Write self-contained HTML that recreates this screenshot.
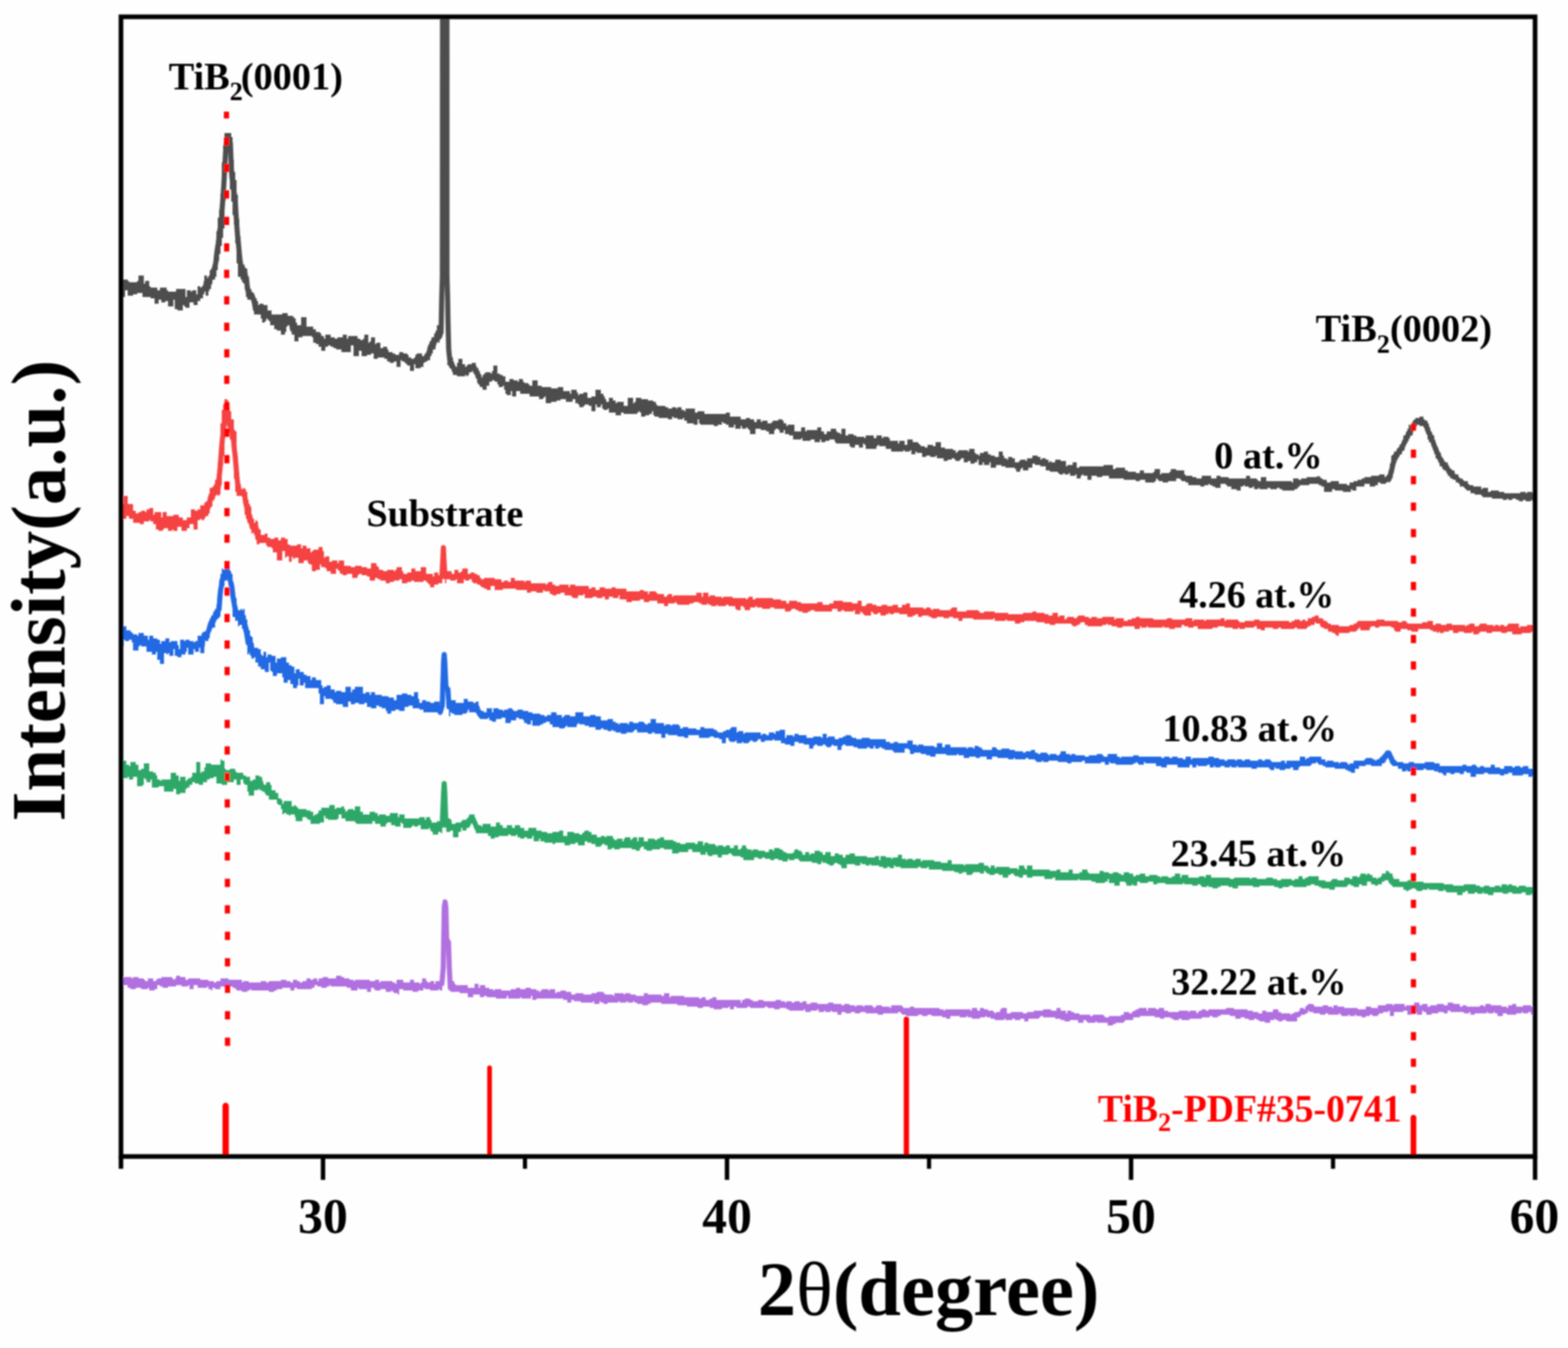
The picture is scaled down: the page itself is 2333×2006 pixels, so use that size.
<!DOCTYPE html>
<html><head><meta charset="utf-8"><title>XRD patterns</title>
<style>
html,body{margin:0;padding:0;background:#fefefe;}
body{width:2333px;height:2006px;overflow:hidden;}
svg{display:block;}
text{font-family:"Liberation Serif","DejaVu Serif",serif;font-weight:bold;fill:#000;}
</style></head><body>
<svg width="2333" height="2006" viewBox="0 0 2333 2006">
<rect x="0" y="0" width="2333" height="2006" fill="#fefefe"/>
<defs><clipPath id="plot"><rect x="180" y="25" width="2104" height="1696"/></clipPath><filter id="soft" x="0" y="0" width="2333" height="2006" filterUnits="userSpaceOnUse"><feGaussianBlur stdDeviation="0.8"/></filter></defs>
<g filter="url(#soft)">
<g fill="#ff0000"><rect x="331.1" y="1641.0" width="9.3" height="83.0" rx="4.7"/><rect x="724.9" y="1585.5" width="7.0" height="138.5" rx="3.5"/><rect x="1344.7" y="1512.8" width="7.8" height="211.2" rx="3.9"/><rect x="2098.8" y="1659.0" width="8.5" height="65.0" rx="4.2"/></g>
<g clip-path="url(#plot)">
<path d="M176 1452h6v4h2v-2h12v2h2v-2h8v2h8v2h2v2h4v-4h8v4h4v-2h2v-2h6v-2h16v2h2v2h2v-2h2v-4h6v2h8v4h4v-2h18v2h12v2h8v2h4v-2h6v-4h12v2h20v4h2v-2h8v2h18v-2h8v2h4v-2h18v-2h8v2h6v2h4v-4h6v2h4v2h4v-2h6v-4h6v2h4v-2h6v4h2v-4h6v-2h8v2h12v-4h8v2h4v2h8v2h6v2h2v-2h22v2h8v-2h6v4h2v-2h18v2h4v2h2v-6h10v4h10v-4h6v4h8v2h2v-2h2v-6h6v4h2v2h4v-2h6v4h2v-4h10V1474h-4v-2h-2v2h-12v-2h-8v-2h-2v4h-8v2h-8v-2h-14v-2h-6v8h-2v-2h-6v-2h-2v-2h-2v2h-8v-4h-8v2h-8v-2h-2v-2h-4v6h-6v-4h-12v-2h-2v4h-10v-4h-6v-2h-24v-2h-2v2h-4v2h-8v-2h-6v-2h-4v4h-4v2h-22v-2h-4v4h-6v-4h-12v2h-8v2h-4v2h-8v-2h-26v-2h-2v2h-4v2h-8v-2h-8v-2h-2v-2h-4v-2h-4v2h-8v-2h-6v4h-8v-2h-4v4h-2v-2h-4v-4h-2v2h-14v-4h-6v6h-6v-6h-2v2h-10v-2h-8v2h-12v2h-8v-2h-4v-2h-4v6h-4v2h-8v-4h-2v2h-10v-2h-8v2h-8v-2h-4v-4h-14ZM670 1460h6v4h2v2h18v4h10v-6h6v6h2v-4h8v4h6v2h6v2h2v-2h10v2h14v-2h8v-2h6v2h8v-2h8v2h8v2h4v2h2v-2h2v-2h10v2h2v-2h8v6h2v-2h6v-2h8v2h8v4h6v-2h12v2h12v-2h8v-2h10v2h2v2h12v2h2v-4h14v2h2v-2h8v2h8v2h12v-4h6v2h20v2h4v-4h8v6h2v-2h20v2h22v2h4v-2h6v4h6v-2h4v-2h6v4h36v4h2v-4h4v-2h8v2h4v2h8v-2h8v2h18v-2h8v2h6v2h2v-2h8v2h4v-2h8v2h4v-2h6v4h6v-2h10v2h16v-2h8v2h12v2h4v-2h8v2h8v2h2v-2h10v2h2v-2h12v2h2v2h2v-2h2v-2h8v2h12v2h2v-4h16v2h2v2h10v-2h6v2h38v2h6v2h2v-2h38v2h2v-4h8v4h4v-4h6v2h6v2h8v2h2v2h2v-2h6v-4h2v-2h8v8h6v-2h18v2h6v-2h10v-2h14v-2h12v2h8v-4h6v4h8v4h2v-4h6v2h4v2h8v2h16v2h4v-2h16v2h2v2h6v-2h18v-2h4v-4h8v2h4v-2h2v-2h4v-2h4v-2h12v4h2v-4h12v2h4v-2h8v4h6v2h16v-2h14v2h2v-2h10v4h2v-2h2v-2h4v-2h6v2h4v-2h26v-2h12v2h20v2h8v2h8v2h6v-4h6v2h10v-4h8v4h4v2h14v2h2v-2h4v-2h6v-2h2v-4h6v2h2v-4h2v-2h2v-2h8v2h2v2h12v-2h8v2h6v2h2v-4h6v2h10v2h20v2h12v-4h8v2h10v-4h12v-2h10v2h2v-2h16v4h2v-2h12v-4h8v4h4v-2h8v4h4v-2h10v-2h10v2h6v-4h8v2h10v4h4v-2h6v2h20v-2h6v2h2v-4h8v2h16v2h8v2h2v-4h6v-2h6v4h10v-2h12v2h10V1508h-2v2h-8v-4h-4v2h-8v-2h-2v2h-8v2h-14v-2h-6v4h-8v-4h-4v-2h-2v2h-8v-2h-2v2h-18v2h-6v-4h-2v2h-8v-2h-20v-2h-4v4h-6v-2h-8v2h-10v2h-8v-4h-4v-2h-2v6h-8v-4h-8v4h-6v-6h-6v2h-14v6h-6v-8h-2v2h-8v2h-6v2h-2v2h-8v-2h-4v2h-6v2h-6v-2h-8v-2h-2v2h-8v-2h-2v2h-10v-2h-2v-2h-2v2h-16v-2h-4v2h-8v-2h-10v-2h-6v-2h-2v4h-4v2h-6v2h-2v2h-4v6h-16v-2h-6v2h-6v-2h-4v-2h-2v2h-6v4h-8v-2h-8v-2h-4v-2h-4v2h-8v-2h-6v-2h-6v2h-8v-4h-8v-2h-14v2h-4v2h-8v-2h-4v2h-12v2h-18v2h-12v-2h-4v2h-8v-2h-4v-2h-10v2h-6v-2h-8v-2h-22v2h-10v4h-12v2h-2v2h-12v2h-4v2h-8v-4h-16v-2h-2v2h-12v-2h-2v-2h-4v4h-8v-4h-12v2h-8v-2h-6v-2h-8v-2h-18v-2h-4v2h-2v2h-16v4h-6v-4h-6v2h-8v-2h-4v2h-10v-2h-2v2h-14v-2h-6v-2h-6v-2h-2v2h-8v2h-12v-2h-6v-2h-2v2h-10v-2h-14v4h-6v-2h-6v-2h-16v-2h-6v2h-8v-2h-6v2h-18v-2h-6v-2h-2v-2h-4v2h-22v2h-8v-2h-18v-2h-8v2h-8v-2h-6v2h-8v-2h-6v4h-6v-4h-8v-2h-2v2h-8v-2h-2v2h-8v-4h-2v2h-10v2h-8v-4h-2v2h-22v-2h-4v-2h-10v2h-8v-2h-10v-2h-4v2h-22v-2h-4v2h-16v-2h-4v4h-6v-4h-2v2h-10v2h-12v-2h-6v-2h-10v2h-8v-2h-16v-2h-14v-2h-24v-2h-16v2h-4v2h-8v-2h-8v-2h-4v-2h-2v2h-8v-2h-2v2h-10v-2h-2v2h-16v2h-6v-2h-4v-2h-2v4h-8v-4h-2v2h-18v-2h-10v-2h-4v4h-6v-4h-6v-2h-40v2h-6v-6h-2v4h-14v-2h-2v2h-18v-4h-2v4h-16v-2h-14v-2h-4v2h-6v-4h-10v4h-8v-6h-12v-2h-14Z" fill="#b070e0"/>
<path d="M657.5 1464 L659.5 1440 L661 1350 L662.2 1342 L663.4 1350 L664.5 1398 L667.3 1402 L668.5 1440 L670 1470" fill="none" stroke="#b070e0" stroke-width="7.6" stroke-linejoin="round" stroke-linecap="round"/>
<path d="M176 1134h2v4h2v-6h8v6h4v2h2v-6h8v4h4v8h4v-2h4v-8h8v12h6v2h4v4h2v6h4v2h2v-2h14v-10h8v4h4v8h2v-6h8v6h2v-2h2v-2h4v-2h2v-6h6v-16h6v16h2v-2h4v-6h2v-6h8v2h14v-8h2v2h4v12h2v2h6v-2h8v4h2v2h10v4h4v2h6v6h4v-2h4v-6h6v2h4v10h2v2h4v-4h6v4h2v8h6v4h4v8h4v2h2v6h2v-4h12v8h4v-2h2v2h2v2h2v2h12v2h6v2h4v6h2v-2h4v-2h2v-4h4v-4h12v-4h8v6h2v-2h8v-2h4v4h2v4h2v-2h2v-2h8v2h2v-6h8v8h4v4h10v-4h8v2h4v4h2v-2h10v2h6v-4h12v6h2v-4h8v6h22v-2h8v4h2v-4h6v4h2v4h8v-2h8V1240h-2v-2h-4v4h-8v-4h-2v-2h-2v-4h-2v2h-12v-6h-4v2h-6v-2h-2v2h-2v2h-12v-6h-2v-2h-2v6h-8v-2h-6v-4h-6v2h-2v4h-8v-4h-8v-4h-4v4h-24v-2h-2v-2h-14v-4h-6v-6h-4v6h-2v2h-14v-2h-4v-4h-2v10h-6v2h-14v-6h-4v-2h-2v-2h-6v6h-10v-10h-8v2h-2v-2h-4v-2h-4v2h-2v-8h-2v-6h-4v-2h-2v-6h-12v-6h-4v-4h-2v-2h-4v-2h-4v-2h-2v2h-6v8h-8v-6h-2v-10h-4v-2h-2v-6h-4v8h-6v-8h-4v4h-10v4h-8v-2h-8v-10h-4v2h-6v2h-4v4h-6v4h-6v-2h-6v-2h-4v4h-4v4h-4v2h-2v6h-8v2h-6v-8h-4v4h-14v-8h-8v2h-10v-12h-2v4h-6v-4h-2v-2h-2v10h-2v2h-8v-14h-6v4h-6v-4h-2v2h-8v-4h-2v-4h-4ZM664 1218h6v2h2v6h6v-2h8v-2h2v-2h6v-2h2v-2h2v-4h8v6h2v4h2v6h6v2h2v-4h12v4h8v-6h6v4h4v4h6v-4h8v4h4v-4h8v4h6v4h6v-4h12v4h8v2h8v2h8v-2h10v-2h6v8h6v-6h10v2h8v2h4v-2h2v-2h2v-2h6v2h4v4h8v4h6v-2h6v2h2v-2h10v4h2v2h4v-2h8v4h2v-4h2v-2h8v4h2v-2h2v-2h6v6h2v-6h8v6h6v-4h10v2h4v-2h4v-2h6v4h14v2h4v2h6v2h8v-2h14v2h4v-4h8v6h2v-4h6v2h10v2h2v2h2v-2h8v2h4v-2h6v4h6v-4h6v6h4v-2h2v-4h6v4h2v2h6v2h2v-2h8v2h10v2h6v-4h6v2h2v-4h8v2h4v2h2v2h4v2h10v-2h2v-4h6v2h4v2h2v4h4v-4h6v4h2v-2h6v-4h8v2h4v4h4v-4h8v6h6v-4h6v2h6v4h4v-4h6v-2h8v4h18v2h12v-2h6v6h2v-6h8v2h8v2h2v-2h8v-4h6v6h6v2h2v-2h8v2h4v-2h8v4h2v-2h18v2h10v2h10v-4h6v6h18v2h2v-2h20v-2h8v4h6v2h2v2h2v-4h6v4h2v-2h20v2h12v2h2v-6h8v4h2v2h2v-6h8v6h26v2h10v-2h6v4h12v-4h6v6h10v-2h4v-4h8v4h2v2h16v-4h6v2h8v2h6v-2h8v2h4v2h4v-4h8v2h6v4h4v-2h6v-2h8v4h6v-2h12v2h4v2h2v-2h10v2h6v-2h4v-4h8v6h2v-4h10v4h16v-2h8v2h2v-4h8v4h28v2h6v-2h24v2h2v-2h8v2h14v-2h10v2h6v2h6v-2h16v2h4v-2h6v-4h6v4h4v-2h4v-2h16v6h10v2h8v-2h2v-2h8v2h10v-4h8v2h4v-4h8v2h2v-2h2v-4h8v2h2v-2h4v2h4v4h6v2h2v-2h4v-2h2v-4h6v-4h4v4h6v8h10v4h12v-2h4v-2h6v2h2v2h12v2h30v2h14v2h16v-2h18v2h6v2h6v-2h8v2h8v-2h8v2h2v-4h8v2h2v-2h6v2h6v2h4v-2h10v2h14v2h2v-2h2V1330h-2v4h-6v-4h-2v2h-8v-4h-6v2h-14v-2h-6v2h-8v-2h-14v4h-8v-2h-6v-2h-2v2h-8v-2h-4v2h-10v-4h-4v2h-4v4h-8v-4h-16v-2h-2v-2h-2v2h-8v-2h-14v-2h-2v2h-8v2h-8v-2h-2v-2h-6v2h-4v2h-4v-2h-4v-4h-16v-4h-4v-2h-2v-4h-6v2h-4v4h-6v2h-4v-2h-6v-4h-6v6h-8v-2h-4v4h-8v-2h-4v-2h-4v2h-2v2h-18v4h-8v-2h-12v-2h-4v-2h-6v-2h-6v2h-6v2h-20v-2h-6v2h-10v2h-6v-2h-6v-2h-22v2h-10v-2h-22v4h-8v-2h-6v-2h-12v2h-4v2h-8v-2h-6v-2h-2v2h-8v-2h-2v-2h-4v2h-8v-2h-12v-2h-2v2h-26v-2h-12v2h-6v-4h-8v2h-12v-2h-4v6h-6v-2h-2v2h-8v-4h-2v-2h-8v6h-8v-4h-8v-6h-2v4h-4v2h-14v-2h-6v-2h-18v-2h-2v2h-34v-4h-4v2h-12v-4h-18v2h-8v-4h-6v4h-6v-2h-6v-2h-2v-2h-4v2h-4v4h-8v-4h-6v-2h-6v2h-8v-2h-4v-2h-2v-2h-2v4h-6v-2h-10v2h-2v2h-8v-4h-6v2h-6v-2h-6v-2h-18v-2h-20v-4h-2v2h-10v-2h-4v2h-26v-2h-8v-2h-2v4h-6v-2h-4v2h-6v-2h-6v-2h-12v-2h-2v2h-6v-2h-6v-2h-2v4h-8v-2h-12v6h-8v-4h-2v-2h-4v-2h-4v2h-2v2h-6v-2h-4v-2h-6v-2h-2v4h-6v-2h-8v-2h-18v-2h-2v-2h-6v2h-8v-2h-2v4h-8v-2h-6v-2h-6v2h-6v-2h-8v-2h-4v2h-6v-2h-6v4h-16v-4h-4v-2h-12v-2h-2v-2h-4v2h-10v4h-6v-4h-8v2h-6v-2h-2v-4h-2v4h-8v-4h-12v-4h-6v4h-14v2h-10v-6h-12v-2h-6v2h-12v2h-8v-2h-4v-4h-4v2h-2v4h-6v-2h-6v-2h-18v2h-8v-2h-4v2h-6v-6h-4v-2h-4v2h-2v2h-8v-4h-6v-2h-6v-2h-4v6h-10v-4h-4v2h-8v2h-8v-4h-14v2h-4v-2h-12v-2h-6v-4h-2v4h-8v-8h-2v4h-8v-2h-4v2h-6v-2h-4v-4h-2v2h-8v-2h-4v2h-14v2h-6v2h-6v-4h-4v-4h-18v-8h-2v-2h-2v-4h-2v-4h-2v8h-2v2h-4v4h-6v-4h-2v6h-4v8h-8v-10h-4v2h-6Z" fill="#2fa868"/>
<path d="M387.2 1162.6 L388.4 1166.4 L389.6 1171.2 L390.8 1170.6 L392.0 1173.4 L393.2 1172.7 L394.4 1173.0 L395.6 1175.0 L396.8 1177.0 L398.0 1179.4 L399.2 1173.7 M437.6 1203.3 L438.8 1207.3 L440.0 1204.7 L441.2 1207.1 L442.4 1213.5 L443.6 1209.6 M694.4 1228.2 L695.6 1227.0 L696.8 1223.6 L698.0 1223.9 L699.2 1220.1 L700.4 1217.7 L701.6 1216.2 L702.8 1216.2 L704.0 1219.0 L705.2 1222.2 L706.4 1224.5 L707.6 1227.1 L708.8 1230.3 L710.0 1233.2 L711.2 1232.3 M2042.0 1309.4 L2043.2 1311.2 L2044.4 1310.1 L2045.6 1311.5 L2046.8 1313.1 M2062.4 1305.3 L2063.6 1302.9 L2064.8 1301.1 L2066.0 1304.6 L2067.2 1305.8 L2068.4 1308.2 L2069.6 1307.0 L2070.8 1311.3 L2072.0 1312.8 L2073.2 1314.9" fill="none" stroke="#2fa868" stroke-width="7.6" stroke-linejoin="round" stroke-linecap="round"/>
<path d="M658 1228 L660 1180 L660.9 1166 L661.8 1180 L663.5 1228" fill="none" stroke="#2fa868" stroke-width="7.6" stroke-linejoin="round" stroke-linecap="round"/>
<path d="M176 940h4v-8h8v6h6v2h2v2h2v2h6v2h2v-4h8v4h6v6h2v-6h6v4h6v2h4v6h2v-4h6v-4h6v6h2v-2h10v6h2v6h2v-14h6v2h2v-2h6v2h6v2h2v-2h4v-8h6v-4h2v-2h6v-8h2v-6h2v-6h2v-4h2v2h2v-6h2v-6h2v-6h2v-8h2v-28h2v-10h2v-8h2v2h2v-4h6v2h2v4h2v4h2v14h2v14h2v8h2v14h2v4h4v-2h2v2h2v-2h2v12h2v4h2v12h2v4h2v8h2v2h2v22h2v-6h6v2h4v8h2v2h2v-6h4v8h2v-4h6v2h6v10h2v-6h6v-2h8v8h4v4h4v2h4v10h2v-6h6v4h6v4h4v2h6v6h2v-4h6v4h8v8h2v4h2v-2h4v-2h6v6h6v4h2v-2h8v2h6v-8h8v8h2v-4h4v-4h12v10h4v-2h6v4h2v-4h6v4h10v2h10v2h8v4h4v-8h8v-2h8v2h6v2h4v-6h6v10h2v6h4v-4h6v2h6v2h6v-2h8V1060h-24v-4h-6v-2h-10v-4h-6v2h-6v6h-8v-2h-6v2h-6v4h-6v-4h-2v-4h-6v-2h-4v-2h-4v4h-8v-2h-6v-6h-4v2h-8v-2h-6v2h-6v-4h-4v8h-8v-4h-10v-2h-4v-4h-2v-2h-10v-4h-2v12h-6v-16h-2v-8h-20v-8h-2v4h-6v-10h-2v10h-2v4h-6v-6h-4v-6h-4v4h-6v-8h-2v-6h-8v4h-6v-6h-2v-2h-2v-12h-2v14h-6v-4h-6v-4h-4v-6h-4v-8h-2v2h-4v-6h-2v-12h-2v12h-2v-14h-2v-12h-2v-8h-2v-4h-2v-6h-4v2h-2v-12h-2v4h-2v-6h-4v-28h-2v-8h-2v-10h-2v-10h-2v2h-4v8h-4v28h-2v18h-2v2h-2v2h-4v12h-4v2h-2v2h-2v12h-2v4h-4v-2h-2v20h-6v-8h-2v6h-6v-4h-2v8h-8v-10h-2v6h-2v4h-6v4h-6v-2h-4v-10h-2v10h-6v-4h-2v2h-2v-2h-4v16h-6v-6h-4v-12h-2v4h-6v-4h-8v-8h-8v-2h-2v2h-2v6h-8v-12h-2v-4h-4v2h-6v-2h-2v10h-6v-8h-2ZM668 1048h2v-6h8v4h12v-6h6v4h8v2h4v-2h4v10h2v2h2v2h4v2h4v-6h8v6h2v-6h8v2h6v2h2v-2h6v-2h6v2h2v2h6v-2h8v2h8v2h6v2h12v2h6v2h4v-2h6v-4h8v4h8v4h2v-2h2v-2h8v2h8v-6h12v6h10v-2h8v2h8v6h10v-2h8v4h4v2h4v2h2v-2h12v2h2v-4h6v2h8v-2h8v2h2v2h4v-2h4v-6h8v6h12v4h2v-2h8v2h2v-2h10v2h2v4h4v-2h8v2h12v2h6v-4h6v2h14v2h4v2h2v2h8v-2h4v-2h6v-2h2v-2h8v8h2v-2h8v4h2v-2h24v4h2v-2h6v2h4v-4h8v2h2v-4h6v-2h8v12h2v-4h10v2h2v-4h6v2h12v4h10v-2h12v2h2v-6h6v6h2v-2h10v4h6v-2h6v-2h4v-2h8v2h2v2h6v2h8v-2h12v2h24v4h6v2h6v-2h6v2h14v-4h8v6h6v2h2v-2h8v2h16v2h4v-6h8v6h4v-4h8v4h24v2h2v-2h8v2h2v-4h6v2h4v2h2v2h14v-4h6v2h2v2h6v-2h12v2h8v2h12v2h4v-2h8v-2h6v4h4v2h4v-2h10v2h2v2h2v-2h10v2h4v-2h2v-4h8v4h6v2h2v-2h6v2h14v2h6v-2h12v-2h8v2h2v2h6v-4h14v4h4v2h2v-2h18v-2h8v2h34v2h4v-2h8v2h4v-2h8v2h8v2h4v-4h8v4h2v-2h24v-2h8v2h8v2h8v2h4v-2h12v2h2v-2h8v2h4v-2h8v2h12v-2h6v2h4v-2h8v2h2v2h14v-2h6v4h2v-4h20v-6h8v4h2v-2h4v-2h18v4h6v4h2v-2h10v2h8v2h2v-2h10v2h2v2h2v-2h6v-4h16v-2h2v-2h10v2h4v2h2v-2h4v-2h2v-2h2v-2h4v-4h2v-2h8v6h2v2h2v4h2v2h2v2h10v2h8v-2h8v2h16v-2h14v2h8v4h34v-2h6v2h8v-2h6v2h2v2h4v-2h6v2h10v-4h6v4h8v2h6v-4h12v2h4v-2h8v2h4v-2h8v4h10v-4h4V1154h-8v2h-6v-4h-8v2h-16v-4h-6v2h-6v2h-6v-2h-18v-2h-6v2h-12v4h-8v-6h-6v-2h-4v4h-6v-2h-8v2h-6v-2h-6v4h-4v-2h-2v-2h-6v-2h-6v-2h-12v-2h-4v2h-14v-2h-2v4h-8v-2h-2v2h-6v-4h-6v-4h-8v-2h-2v-2h-2v-6h-2v-2h-2v2h-2v4h-2v2h-4v4h-16v-2h-8v2h-10v4h-6v6h-6v-2h-4v-2h-4v-2h-16v-2h-14v-2h-4v-2h-6v-2h-2v-2h-2v2h-6v2h-2v2h-16v2h-2v4h-8v-4h-4v2h-8v2h-8v-2h-6v-2h-2v4h-6v-2h-2v-2h-18v2h-8v-2h-20v-2h-2v2h-8v-2h-2v2h-8v-2h-6v2h-8v-2h-2v2h-6v-4h-4v2h-14v-2h-2v4h-6v-4h-4v4h-18v-4h-16v4h-8v-2h-8v-4h-16v-2h-2v4h-8v-2h-2v-2h-2v2h-4v2h-26v-2h-8v-2h-2v4h-6v-4h-6v2h-24v-4h-4v2h-16v2h-6v-2h-14v-2h-14v2h-8v-2h-2v2h-8v-2h-2v-2h-10v-2h-4v2h-16v-2h-2v2h-8v-2h-16v-2h-8v4h-8v-4h-10v2h-6v-2h-10v2h-8v-4h-8v-2h-2v2h-16v-2h-16v4h-8v-2h-6v-2h-8v-2h-10v2h-6v-6h-2v-2h-6v6h-16v-2h-2v-2h-12v-2h-4v-2h-4v2h-6v-4h-2v4h-6v-2h-4v2h-14v-2h-6v-2h-12v-2h-4v2h-2v6h-6v-6h-6v-2h-2v2h-2v2h-6v-2h-2v-2h-4v2h-8v-2h-4v2h-2v4h-6v-6h-8v-2h-8v-2h-6v6h-6v-2h-8v-2h-6v-4h-10v-2h-2v2h-12v2h-6v-4h-4v2h-2v2h-6v-2h-4v2h-2v2h-8v-2h-2v2h-8v-4h-2v2h-8v-2h-2v-4h-4v8h-6v-6h-4v-2h-8v-2h-6v2h-16v-4h-16v4h-6v-2h-10v-2h-14v-2h-4v6h-6v-6h-10v-2h-4v2h-6v-2h-16v-4h-4v2h-2v2h-10v2h-8v-2h-8v-2h-4v-2h-2v2h-6v-2h-6v-2h-4v2h-8v-4h-10v-2h-6v-2h-8v-2h-2v2h-2v4h-14v-2h-2v2h-2v2h-8v-2h-10v-4h-4v-4h-6v2h-4v2h-4v2h-12v-8h-2v6h-6v-2h-4v-4h-2v-2h-6v-2h-4v4h-8v4h-8v-8h-6v2h-8v4h-6v-2h-4v-4h-2v2h-12v-2h-2v-6h-2v-2h-12v-4h-2v4h-2v2h-6v2h-12v-2h-4v-2h-2v6h-2Z" fill="#2069e3"/>
<path d="M300.8 961.3 L302.0 948.8 L303.2 948.2 L304.4 948.1 L305.6 948.6 L306.8 947.8 L308.0 946.7 L309.2 940.5 L310.4 939.1 L311.6 934.5 L312.8 930.0 L314.0 926.4 L315.2 926.2 L316.4 923.2 L317.6 924.5 L318.8 919.4 L320.0 916.5 L321.2 911.9 L322.4 911.1 L323.6 911.7 L324.8 908.8 L326.0 906.3 L327.2 888.2 L328.4 876.7 L329.6 870.9 L330.8 862.0 L332.0 860.3 L333.2 860.3 L334.4 855.1 L335.6 850.8 L336.8 852.1 L338.0 847.5 L339.2 852.7 L340.4 857.4 L341.6 858.5 L342.8 865.2 L344.0 868.4 L345.2 874.4 L346.4 886.5 L347.6 893.4 L348.8 900.4 L350.0 906.7 L351.2 915.1 L352.4 914.3 L353.6 915.4 L354.8 920.2 L356.0 919.3 M359.6 920.7 L360.8 918.0 L362.0 917.4 L363.2 928.3 L364.4 929.4 L365.6 933.8 L366.8 941.3 L368.0 949.3 L369.2 956.4 L370.4 954.7 L371.6 957.6 L372.8 968.1 L374.0 959.0 L375.2 972.5 M704.0 1049.7 L705.2 1050.8 L706.4 1054.7 L707.6 1055.7 L708.8 1054.7 L710.0 1052.7 L711.2 1058.9 L712.4 1059.7 L713.6 1062.8 L714.8 1063.0 M2055.2 1131.5 L2056.4 1129.8 L2057.6 1130.9 L2058.8 1128.1 L2060.0 1127.9 L2061.2 1124.7 L2062.4 1124.3 L2063.6 1121.5 L2064.8 1120.2 L2066.0 1120.4 L2067.2 1122.3 L2068.4 1124.6 L2069.6 1128.3 L2070.8 1130.5 L2072.0 1133.0 L2073.2 1135.4 L2074.4 1135.0" fill="none" stroke="#2069e3" stroke-width="7.6" stroke-linejoin="round" stroke-linecap="round"/>
<path d="M655 1060 L658 1050 L660 985 L660.9 974 L661.8 985 L663.5 1022 L666.5 1026 L668 1052" fill="none" stroke="#2069e3" stroke-width="7.6" stroke-linejoin="round" stroke-linecap="round"/>
<path d="M176 752h4v-2h4v-12h6v12h8v10h4v4h4v-2h4v-2h6v2h2v-4h4v-2h6v10h2v-4h10v8h2v-8h6v6h10v-2h8v4h6v4h6v-4h6v-12h6v2h4v-2h4v-6h6v-4h2v-2h2v4h2v-8h2v-16h4v-2h2v-2h2v-8h2v-2h2v-24h2v-22h2v-36h2v-20h2v-8h2v-8h4v2h2v14h2v2h2v12h4v16h2v2h2v38h2v22h2v22h2v4h4v-2h2v2h2v4h2v12h2v6h2v4h2v18h4v6h2v-4h2v2h2v12h4v8h6v-2h4v6h4v2h6v-2h6v4h4v-4h6v2h4v8h2v2h2v2h2v-2h8v-2h6v6h2v-4h6v4h6v6h2v-2h2v-2h8v-4h6v6h2v10h2v-2h6v8h4v-2h8v4h2v-4h8v8h10v2h6v-2h10v2h8v2h6v-8h8v4h2v2h2v4h6v2h6v-2h10v2h2v-2h2v-4h8v6h2v4h6v-2h6v-6h6v4h8v-6h8v10h10v4h2v-6h6v4h6V868h-6v2h-6v4h-6v-4h-2v-2h-2v-2h-2v-2h-4v2h-14v-2h-4v2h-6v2h-8v-6h-4v2h-8v2h-6v2h-6v-4h-8v-2h-4v-2h-4v4h-8v-6h-4v-2h-8v-2h-4v2h-2v4h-8v-6h-8v2h-6v-2h-4v-4h-2v-2h-2v-2h-2v8h-8v-4h-6v-4h-2v-2h-6v-4h-2v8h-6v2h-6v-10h-4v-2h-2v-4h-6v4h-8v-8h-6v2h-2v-4h-2v8h-4v-8h-4v2h-2v-10h-4v14h-8v-12h-6v-6h-2v-2h-6v-2h-2v-4h-10v2h-4v-16h-2v2h-2v-6h-2v4h-2v-8h-2v-6h-2v-2h-2v-6h-2v-6h-2v-20h-2v-6h-2v-2h-8v-6h-2v-20h-2v-32h-2v-26h-4v-10h-2v-14h-4v14h-2v34h-2v14h-2v30h-2v14h-2v2h-2v-2h-2v2h-2v4h-2v-6h-2v18h-2v-6h-2v16h-2v4h-4v2h-2v4h-4v-2h-2v2h-4v14h-6v-8h-6v6h-4v4h-8v-6h-6v6h-6v-2h-2v2h-6v-4h-6v2h-2v2h-6v-2h-4v-8h-4v-4h-4v-2h-2v2h-8v4h-6v-2h-10v-6h-6v-4h-4v4h-6v2h-6ZM662 850h10v4h4v-6h6v4h4v-2h2v-4h8v8h4v-2h6v2h4v2h4v4h2v2h4v-2h16v2h10v4h4v-2h6v2h4v-6h6v4h14v2h2v-2h8v4h22v2h2v-2h2v-2h6v4h4v2h6v-2h14v4h2v-4h8v2h20v4h4v-2h6v4h6v-4h8v2h10v-2h6v2h16v4h20v-2h6v2h6v4h2v-4h10v2h2v2h10v4h4v-2h2v-2h6v4h2v-2h34v-4h8v6h2v-6h8v6h2v-2h8v2h10v2h2v-2h14v2h20v2h2v-2h2v-2h6v4h4v-2h26v2h12v2h8v4h4v-4h12v2h6v2h24v-2h8v4h10v-2h6v-4h14v2h14v2h8v-4h6v8h6v-2h2v-2h8v2h6v2h8v-2h8v2h8v-2h8v4h6v-4h6v-2h6v6h20v2h4v-2h6v2h2v2h2v-2h10v2h16v-2h2v-2h8v6h14v-2h18v2h2v2h6v-2h16v2h20v2h22v-2h14v-2h6v2h12v2h6v2h6v-4h8v6h2v-2h8v6h2v-2h2v-2h10v2h4v-2h2v-2h10v2h6v2h4v-2h8v2h8v-2h18v4h2v-2h12v4h6v-2h6v-2h6v-2h6v2h20v2h20v-2h8v2h20v-2h10v4h2v-2h16v2h2v-2h22v-2h6v4h2v-2h18v2h2v2h8v-2h14v-2h8v2h44v2h4v-2h4v-2h8v2h4v-2h4v2h4v-4h6v-2h4v-2h6v4h6v2h2v2h4v2h2v2h4v2h12v2h16v-2h6v-2h4v-2h2v-2h28v-2h12v2h20v2h6v-2h6v2h2v2h22v-2h8v-2h8v6h4v-2h8v2h8v-2h8v2h20v2h2v-2h4v-2h8v4h6v-2h2v-2h10v2h10v2h2v-2h6v2h2v-2h6v2h4v-2h2v-2h16v6h2v-2h10v-2h12v2h4V944h-6v-2h-2v-2h-2v2h-14v2h-14v-4h-8v2h-8v-2h-14v2h-8v-2h-10v2h-2v2h-8v-4h-2v2h-12v-2h-8v2h-8v-4h-6v2h-8v2h-6v-2h-2v2h-2v-2h-6v-2h-4v-2h-18v4h-10v-2h-6v-2h-10v4h-8v-2h-2v-4h-4v-2h-18v2h-6v-2h-6v2h-2v4h-14v-4h-2v2h-2v2h-2v2h-10v2h-16v4h-4v-2h-2v-2h-4v-2h-6v-4h-6v-2h-4v-2h-2v-4h-6v-2h-2v4h-6v2h-4v2h-2v2h-14v-2h-4v2h-20v-2h-4v2h-8v-2h-12v4h-6v-2h-6v-4h-4v2h-14v2h-8v-2h-2v2h-8v-2h-12v-2h-10v2h-8v2h-22v-4h-6v2h-8v-2h-6v-2h-4v4h-10v2h-8v-2h-8v-2h-2v2h-22v-2h-2v2h-8v-2h-2v4h-8v-4h-18v2h-8v-2h-8v-2h-6v-2h-2v2h-6v2h-22v-2h-4v-4h-6v2h-2v2h-4v2h-6v-2h-2v-2h-24v2h-8v-2h-8v-2h-12v-2h-18v2h-6v2h-8v-4h-12v-2h-2v2h-16v-4h-2v2h-30v-2h-16v4h-6v-4h-8v-2h-6v2h-8v-2h-10v2h-8v-2h-4v-2h-10v2h-6v-4h-4v2h-4v2h-8v-4h-12v-2h-8v2h-6v-2h-2v2h-4v2h-8v-4h-4v2h-6v-2h-2v-2h-2v6h-10v-2h-2v-2h-2v-2h-2v4h-8v-6h-2v2h-14v-2h-4v2h-6v-4h-8v4h-26v-2h-6v2h-4v2h-8v-2h-6v-2h-4v-2h-6v2h-2v2h-8v-4h-16v-2h-6v2h-12v-2h-8v-2h-2v2h-8v4h-8v-4h-2v-2h-4v6h-6v-2h-2v-4h-10v-2h-4v2h-12v-2h-2v2h-8v-2h-4v-2h-2v2h-8v-2h-4v-2h-8v2h-6v2h-18v-2h-2v-2h-2v2h-10v4h-6v-4h-10v-4h-12v2h-8v-4h-6v2h-12v2h-8v-4h-10v-6h-2v4h-8v-2h-6v4h-6v-4h-4v2h-8v-2h-6v2h-12v-6h-2v2h-8v4h-8v-2h-2v-2h-10v-4h-6v2h-6v2h-6v-2h-4v-4h-8v-2h-2v4h-10v-2h-8v2h-6v-4h-16v-2h-20v2h-12v-6h-6v6h-6v-2h-4v-2h-4v-2h-2v-2h-4v-2h-6v-2h-2v-4h-4v2h-6v-2h-2v6h-10v-6h-2v2h-8v-2h-6v6h-2Z" fill="#f54242"/>
<path d="M300.8 761.3 L302.0 768.6 L303.2 762.4 L304.4 764.8 L305.6 757.9 L306.8 759.3 L308.0 758.5 L309.2 755.9 L310.4 752.8 L311.6 749.0 L312.8 741.9 L314.0 737.5 L315.2 742.0 L316.4 732.4 L317.6 730.7 L318.8 732.6 L320.0 728.3 L321.2 729.6 L322.4 722.5 L323.6 724.2 L324.8 725.9 L326.0 710.4 L327.2 699.7 L328.4 684.0 L329.6 668.1 L330.8 654.6 L332.0 644.5 L333.2 633.2 L334.4 621.7 L335.6 612.7 L336.8 602.5 L338.0 611.2 L339.2 615.2 L340.4 626.4 L341.6 633.1 L342.8 632.6 L344.0 640.6 L345.2 640.7 L346.4 646.7 L347.6 656.0 L348.8 669.6 L350.0 679.2 L351.2 693.8 L352.4 708.9 L353.6 719.2 L354.8 723.8 L356.0 732.7 L357.2 732.9 L358.4 731.4 L359.6 732.5 M359.6 732.5 L360.8 732.9 L362.0 731.3 L363.2 734.5 L364.4 739.1 L365.6 748.7 L366.8 752.8 L368.0 759.6 L369.2 765.2 L370.4 770.6 L371.6 767.8 L372.8 774.1 L374.0 779.1 L375.2 784.5 L376.4 781.9 L377.6 785.5 L378.8 788.2 L380.0 790.7 L381.2 785.6 L382.4 791.3 L383.6 800.5 M429.2 817.0 L430.4 814.6 L431.6 816.7 L432.8 824.0 L434.0 820.4 L435.2 819.6 L436.4 818.8 L437.6 825.8 L438.8 826.4" fill="none" stroke="#f54242" stroke-width="7.6" stroke-linejoin="round" stroke-linecap="round"/>
<path d="M657.5 858 L659 830 L659.7 815 L660.4 830 L662 858" fill="none" stroke="#f54242" stroke-width="7.6" stroke-linejoin="round" stroke-linecap="round"/>
<path d="M176 414h6v2h8v2h2v2h12v-2h2v-8h8v12h2v-4h6v8h2v2h10v4h4v-4h10v4h2v2h12v-4h14v12h2v-10h6v2h2v-2h6v6h2v-12h4v2h2v-2h2v-2h2v-14h4v4h2v4h2v-16h2v-2h2v-6h2v-12h2v-12h2v-26h2v-20h2v-12h2v-24h2v-46h2v-26h2v-18h10v6h2v34h2v18h2v12h2v22h2v36h2v26h2v30h2v12h4v4h2v2h2v14h2v12h2v4h2v4h2v2h2v6h2v2h2v4h2v6h2v-2h6v2h6v8h6v6h16v-2h8v4h8v2h2v2h2v6h2v4h6v-12h8v14h10v4h4v4h6v2h2v4h4v4h2v-6h8v4h6v2h4v-2h8v-4h6v6h2v-4h14v4h4v2h4v-2h2v-6h6v12h2v-2h2v-6h6v10h2v-2h6v8h4v-2h6v4h2v4h6v2h4v2h6v-4h6v2h6v2h2v4h4v2h4v-2h2v-4h2v-2h8v4h4v-4h2v-2h2v-6h2v-6h2v-4h2v-6h4v-6h2v-4h2v-8h4V510h-2v-6h-2v6h-2v10h-4v6h-2v4h-2v6h-4v2h-4v2h-2v6h-4v2h-8v-6h-2v10h-6v-8h-4v-2h-2v-2h-2v-2h-4v-2h-2v10h-6v-8h-4v2h-6v-2h-4v-4h-4v-2h-10v2h-6v-8h-4v2h-6v2h-8v-8h-4v8h-8v-16h-4v10h-14v-4h-8v-2h-4v-2h-4v-2h-4v2h-4v6h-6v-6h-4v-4h-4v-2h-4v-8h-2v-2h-14v2h-6v6h-6v-10h-4v-12h-2v-2h-4v2h-2v8h-2v4h-6v-6h-6v-2h-4v-6h-6v-6h-2v-2h-2v-2h-2v4h-2v2h-4v-6h-2v-6h-10v-10h-2v-10h-2v-2h-6v-4h-2v-12h-2v-8h-2v-2h-2v-4h-2v-4h-4v-20h-2v-30h-2v-28h-2v-14h-2v-20h-2v-18h-2v-42h-2v-14h-2v18h-2v54h-2v42h-2v14h-2v12h-2v12h-2v10h-2v14h-2v10h-2v4h-4v6h-2v8h-2v-2h-2v12h-4v-6h-2v4h-2v6h-4v4h-4v6h-6v-4h-6v8h-6v-2h-2v-2h-2v8h-8v-2h-4v-14h-2v10h-8v-8h-4v2h-6v-4h-4v6h-6v-8h-6v-2h-12v-6h-8v2h-6v2h-8v-8h-4v10h-8v-10h-2ZM670 532h4v10h2v4h4v-6h2v-6h6v8h4v4h2v-2h2v-2h6v-2h6v8h4v4h2v8h2v2h2v-4h2v-2h2v-2h8v2h2v-4h2v-8h6v12h4v2h4v2h4v8h6v-4h6v2h6v2h2v-4h6v4h2v2h6v2h2v2h4v-8h8v8h6v2h14v2h10v-2h8v6h10v4h2v-6h8v4h2v4h2v-2h6v-2h6v8h6v-2h6v-10h8v6h4v4h2v4h2v4h4v-6h6v4h4v4h2v-2h10v6h6v-12h8v8h2v-2h2v-6h8v2h10v2h8v2h4v4h2v2h12v2h4v2h6v-2h6v2h2v-2h6v4h4v2h2v-4h14v6h4v-2h10v4h32v-2h6v6h16v4h8v-2h6v2h6v4h4v-4h6v4h2v-2h8v4h6v-2h2v-2h8v-2h6v2h2v4h4v4h2v-2h10v10h10v-6h6v6h2v-2h16v-4h6v6h4v4h4v-4h6v-4h8v4h2v2h4v2h2v-8h6v10h4v-2h8v2h4v2h12v2h2v-4h12v4h4v-4h8v4h2v-2h8v2h2v4h12v4h2v-4h8v6h4v-8h8v4h8v2h2v2h2v2h6v2h4v-4h8v2h4v-6h8v8h6v2h12v2h4v4h2v-2h2v-2h14v2h2v-4h8v6h2v2h4v2h2v-4h6v-2h6v4h4v2h6v2h6v-8h6v6h2v4h4v2h2v-4h6v2h4v6h6v-2h2v-2h8v2h2v-4h8v-4h8v2h4v4h2v-2h6v2h4v4h2v-2h2v2h6v-4h8v2h8v8h2v-2h8v-4h6v8h4v-2h36v-2h14v6h4v-2h14v4h4v2h12v2h6v-4h6v4h14v-2h2v-4h8v8h2v-2h12v-2h2v-4h8v2h12v6h2v2h10v2h6v2h8v-4h14v4h8v-4h6v2h12v2h26v-4h6v4h10v2h2v2h4v-6h8v6h38v2h2v-6h8v2h4v-2h8v-2h20v2h4v2h6v4h6v-2h12v4h12v2h4v-4h6v-2h6v-2h6v-2h4v-2h10v-2h12v-2h8v4h2v-2h2v-2h2v-4h2v-12h2v-12h2v-2h2v-4h4v-4h2v-2h2v-4h2v-2h2v-2h2v-10h4v-6h2v-4h2v-6h2v2h2v-4h2v-4h2v-2h2v-2h6v-2h6v4h2v2h4v4h2v6h2v6h2v6h4v8h2v6h2v4h2v6h2v2h2v8h4v4h2v2h4v6h2v4h4v2h4v6h6v4h2v2h4v2h2v2h6v4h2v2h6v2h12v4h2v-2h8v6h4v-2h12v2h8v2h24v-2h8v2h2v-2h8v2h2v2h6V744h-2v2h-6v-2h-2v2h-8v-2h-4v2h-6v-2h-4v-2h-6v2h-6v-2h-2v2h-6v-2h-16v-2h-14v-2h-2v-2h-10v-2h-6v-4h-6v-2h-2v-2h-2v-2h-6v-4h-2v-2h-4v-4h-4v-2h-4v-4h-4v-4h-2v-4h-4v-2h-2v-4h-4v-6h-2v-4h-2v-2h-2v-6h-2v-6h-2v-6h-2v-6h-4v-4h-2v-8h-2v-6h-2v-4h-2v-2h-6v-2h-6v6h-2v2h-2v8h-4v4h-2v4h-2v4h-2v2h-2v8h-4v6h-4v2h-2v6h-2v4h-2v6h-2v10h-2v8h-2v4h-2v2h-2v-2h-2v2h-2v2h-8v-2h-4v4h-4v2h-8v-4h-8v4h-12v6h-6v-2h-2v4h-12v-2h-12v-2h-4v4h-12v-8h-4v-2h-4v-2h-14v2h-14v2h-2v2h-2v2h-4v2h-18v-2h-4v-2h-4v2h-10v-2h-4v2h-12v-2h-2v2h-6v-4h-2v2h-6v-2h-6v-2h-2v2h-4v6h-6v-2h-8v-4h-6v-2h-2v-2h-8v6h-8v-2h-4v-2h-4v-2h-2v2h-6v2h-6v-2h-18v-4h-4v-2h-6v-2h-2v-2h-6v4h-12v2h-8v-2h-6v-2h-2v-2h-2v4h-2v2h-14v-4h-8v2h-6v-2h-18v-2h-22v-4h-10v2h-8v-2h-8v6h-6v-6h-6v-2h-2v2h-2v4h-6v-6h-2v2h-8v-4h-2v2h-6v-2h-2v2h-6v-2h-2v-2h-12v-2h-6v-6h-8v-2h-8v-2h-4v6h-6v4h-8v-4h-2v2h-2v4h-6v-4h-2v-2h-14v-2h-6v-2h-8v4h-8v-8h-2v4h-8v-4h-2v4h-6v-8h-2v4h-4v2h-6v-4h-4v2h-6v-6h-4v2h-2v2h-6v-2h-2v-2h-4v2h-6v2h-6v-4h-10v-4h-2v2h-8v-2h-6v2h-6v-6h-8v-2h-2v4h-6v-6h-2v2h-8v-2h-2v2h-18v-4h-8v-4h-10v-2h-2v2h-2v4h-16v-6h-2v-2h-2v6h-6v-4h-6v4h-6v-2h-2v-4h-20v-2h-2v-4h-8v2h-6v2h-6v-4h-2v4h-8v-4h-6v2h-12v-4h-2v2h-12v-6h-6v-2h-6v-6h-2v4h-6v-4h-2v-2h-4v2h-2v6h-8v-4h-4v-2h-8v-2h-8v8h-8v-6h-2v-2h-2v-2h-2v2h-6v-4h-2v4h-8v-6h-2v4h-8v-4h-4v-2h-4v-2h-2v4h-6v2h-6v-2h-20v-2h-2v-6h-2v8h-6v-2h-10v-4h-4v-4h-2v2h-8v-2h-6v-2h-2v4h-6v-2h-14v-2h-6v-2h-2v-6h-2v4h-4v2h-6v2h-6v-6h-2v-2h-2v2h-2v2h-20v-2h-4v4h-8v-4h-10v-6h-2v2h-6v-2h-2v-6h-2v4h-6v-4h-2v10h-6v-8h-4v-2h-6v2h-2v2h-6v-4h-2v-2h-4v-6h-4v4h-10v-4h-8v2h-6v2h-8v2h-8v-10h-2v2h-2v2h-6v-4h-14v-4h-14v-4h-6v8h-6v-8h-2v6h-6v-2h-2v-6h-2v-6h-2v2h-6v-4h-2v-4h-4v-2h-4v2h-4v6h-4v6h-6v-4h-4v-4h-2v-2h-2v-12h-4v-8h-2v2h-2v2h-4v4h-2v2h-2v-2h-2v2h-12v-2h-6v-6h-2v-6h-2Z" fill="#4d4d4d"/>
<path d="M305.6 429.0 L306.8 420.3 L308.0 430.7 L309.2 421.1 L310.4 422.7 L311.6 421.6 L312.8 414.3 L314.0 412.6 L315.2 413.1 L316.4 408.2 L317.6 405.0 L318.8 399.5 L320.0 396.4 L321.2 390.1 L322.4 377.9 L323.6 369.3 L324.8 362.0 L326.0 351.3 L327.2 342.2 L328.4 335.9 L329.6 324.1 L330.8 306.8 L332.0 291.1 L333.2 271.6 L334.4 248.6 L335.6 227.0 L336.8 212.7 L338.0 209.1 L339.2 203.9 L340.4 211.1 L341.6 207.8 L342.8 213.2 L344.0 245.6 L345.2 265.1 L346.4 271.6 L347.6 282.6 L348.8 288.6 L350.0 296.9 L351.2 319.2 L352.4 336.6 L353.6 352.1 L354.8 362.4 L356.0 376.4 L357.2 387.8 L358.4 395.0 L359.6 402.7 L360.8 400.7 L362.0 407.4 L363.2 405.1 L364.4 405.7 L365.6 414.1 L366.8 413.9 L368.0 428.5 L369.2 433.7 L370.4 439.4 L371.6 437.6 L372.8 442.1 L374.0 439.9 M372.8 442.1 L374.0 439.9 L375.2 440.0 L376.4 443.8 L377.6 447.1 L378.8 452.1 L380.0 459.8 L381.2 455.7 L382.4 462.2 L383.6 460.9 L384.8 463.5 M429.2 477.0 L430.4 479.0 L431.6 476.5 L432.8 481.2 L434.0 482.4 L435.2 489.9 L436.4 483.2 L437.6 487.2 L438.8 493.4 L440.0 491.3 M632.0 534.7 L633.2 533.1 L634.4 530.6 L635.6 532.0 L636.8 527.8 L638.0 525.3 L639.2 521.0 L640.4 516.0 L641.6 518.1 L642.8 510.3 L644.0 509.0 L645.2 512.9 L646.4 508.6 L647.6 506.5 L648.8 503.1 L650.0 500.1 L651.2 501.6 M669.2 540.7 L670.4 538.5 L671.6 539.6 L672.8 543.3 L674.0 545.6 L675.2 548.1 L676.4 552.0 L677.6 549.8 L678.8 551.7 M702.8 548.1 L704.0 546.7 L705.2 548.4 L706.4 547.9 L707.6 553.1 L708.8 553.7 L710.0 554.6 L711.2 560.2 L712.4 559.1 L713.6 564.7 L714.8 569.4 L716.0 565.8 L717.2 569.3 M1961.6 712.4 L1962.8 715.9 L1964.0 715.9 L1965.2 715.9 L1966.4 717.8 L1967.6 717.9 L1968.8 720.3 L1970.0 719.4 M2063.6 713.6 L2064.8 713.2 L2066.0 711.8 L2067.2 711.3 L2068.4 709.0 L2069.6 701.9 L2070.8 699.0 L2072.0 692.9 L2073.2 688.6 L2074.4 684.4 L2075.6 681.7 L2076.8 679.4 L2078.0 678.6 L2079.2 676.4 L2080.4 673.8 L2081.6 671.8 L2082.8 669.2 L2084.0 668.4 L2085.2 668.4 L2086.4 664.8 L2087.6 663.0 L2088.8 660.1 L2090.0 656.6 L2091.2 655.4 L2092.4 653.6 L2093.6 650.1 L2094.8 647.5 L2096.0 646.1 L2097.2 644.3 L2098.4 640.7 L2099.6 640.7 L2100.8 636.4 L2102.0 635.2 L2103.2 632.6 L2104.4 633.0 L2105.6 628.9 L2106.8 628.8 L2108.0 627.6 L2109.2 626.4 M2116.4 629.7 L2117.6 628.3 L2118.8 628.8 L2120.0 630.5 L2121.2 632.2 L2122.4 634.6 L2123.6 638.2 L2124.8 641.3 L2126.0 644.4 L2127.2 645.2 L2128.4 649.8 L2129.6 650.4 L2130.8 655.1 L2132.0 657.2 L2133.2 661.3 L2134.4 664.2 L2135.6 666.9 L2136.8 670.0 L2138.0 672.8 L2139.2 675.1 L2140.4 679.0 L2141.6 680.6 L2142.8 683.1 L2144.0 686.6 L2145.2 687.1 L2146.4 689.0 L2147.6 690.2 L2148.8 693.1 L2150.0 694.7 L2151.2 693.2 L2152.4 695.0 L2153.6 697.9 L2154.8 698.9 L2156.0 701.6 L2157.2 702.1 L2158.4 702.5 L2159.6 706.5 L2160.8 704.3 L2162.0 707.4 L2163.2 709.4 L2164.4 710.3 L2165.6 710.0" fill="none" stroke="#4d4d4d" stroke-width="7.6" stroke-linejoin="round" stroke-linecap="round"/>
<path d="M649 506 L654 501 L656.3 494 L657.2 445 L658.2 410 L658.4 0 L665 0 L665.1 410 L666 445 L666.5 475 L667.6 520 L669.5 538 L672 545" fill="none" stroke="#4d4d4d" stroke-width="7.6" stroke-linejoin="round" stroke-linecap="round"/>
</g>
<g fill="#ff0000"><rect x="333.1" y="166.1" width="7.7" height="10.2"/><rect x="333.2" y="204.4" width="7.7" height="12.3"/><rect x="333.2" y="243.8" width="7.7" height="12.3"/><rect x="333.3" y="283.2" width="7.7" height="12.3"/><rect x="333.3" y="322.6" width="7.7" height="12.3"/><rect x="333.4" y="362.0" width="7.7" height="12.3"/><rect x="333.4" y="401.4" width="7.7" height="12.3"/><rect x="333.5" y="440.8" width="7.7" height="12.3"/><rect x="333.5" y="480.2" width="7.7" height="12.3"/><rect x="333.6" y="519.6" width="7.7" height="12.3"/><rect x="333.6" y="559.0" width="7.7" height="12.3"/><rect x="333.7" y="598.4" width="7.7" height="12.3"/><rect x="333.7" y="637.8" width="7.7" height="12.3"/><rect x="333.7" y="677.2" width="7.7" height="12.3"/><rect x="333.8" y="716.6" width="7.7" height="12.3"/><rect x="333.8" y="756.0" width="7.7" height="12.3"/><rect x="333.9" y="795.4" width="7.7" height="12.3"/><rect x="333.9" y="834.8" width="7.7" height="12.3"/><rect x="334.0" y="874.2" width="7.7" height="12.3"/><rect x="334.0" y="913.6" width="7.7" height="12.3"/><rect x="334.1" y="953.0" width="7.7" height="12.3"/><rect x="334.1" y="992.4" width="7.7" height="12.3"/><rect x="334.2" y="1031.8" width="7.7" height="12.3"/><rect x="334.2" y="1071.2" width="7.7" height="12.3"/><rect x="334.2" y="1110.6" width="7.7" height="12.3"/><rect x="334.3" y="1150.0" width="7.7" height="12.3"/><rect x="334.3" y="1189.4" width="7.7" height="12.3"/><rect x="334.4" y="1228.8" width="7.7" height="12.3"/><rect x="334.4" y="1268.2" width="7.7" height="12.3"/><rect x="334.5" y="1307.7" width="7.7" height="12.3"/><rect x="334.5" y="1347.1" width="7.7" height="12.3"/><rect x="334.6" y="1386.5" width="7.7" height="12.3"/><rect x="334.6" y="1425.9" width="7.7" height="12.3"/><rect x="334.7" y="1465.3" width="7.7" height="12.3"/><rect x="334.7" y="1504.7" width="7.7" height="12.3"/><rect x="334.7" y="1544.1" width="7.7" height="12.3"/><rect x="2099.2" y="630.7" width="7.7" height="10.2"/><rect x="2099.2" y="669.0" width="7.7" height="12.3"/><rect x="2099.2" y="708.4" width="7.7" height="12.3"/><rect x="2099.2" y="747.8" width="7.7" height="12.3"/><rect x="2099.2" y="787.2" width="7.7" height="12.3"/><rect x="2099.2" y="826.6" width="7.7" height="12.3"/><rect x="2099.2" y="866.0" width="7.7" height="12.3"/><rect x="2099.2" y="905.4" width="7.7" height="12.3"/><rect x="2099.2" y="944.8" width="7.7" height="12.3"/><rect x="2099.2" y="984.2" width="7.7" height="12.3"/><rect x="2099.2" y="1023.6" width="7.7" height="12.3"/><rect x="2099.2" y="1063.0" width="7.7" height="12.3"/><rect x="2099.2" y="1102.4" width="7.7" height="12.3"/><rect x="2099.2" y="1141.8" width="7.7" height="12.3"/><rect x="2099.2" y="1181.2" width="7.7" height="12.3"/><rect x="2099.2" y="1220.7" width="7.7" height="12.3"/><rect x="2099.2" y="1260.1" width="7.7" height="12.3"/><rect x="2099.2" y="1299.5" width="7.7" height="12.3"/><rect x="2099.2" y="1338.9" width="7.7" height="12.3"/><rect x="2099.2" y="1378.3" width="7.7" height="12.3"/><rect x="2099.2" y="1417.7" width="7.7" height="12.3"/><rect x="2099.2" y="1457.1" width="7.7" height="12.3"/><rect x="2099.2" y="1496.5" width="7.7" height="12.3"/><rect x="2099.2" y="1535.9" width="7.7" height="12.3"/><rect x="2099.2" y="1575.3" width="7.7" height="12.3"/><rect x="2099.2" y="1614.7" width="7.7" height="12.3"/></g>
<rect x="180" y="25" width="2104" height="1696" fill="none" stroke="#000" stroke-width="6.9"/>
<g stroke="#000" stroke-width="7"><line x1="180.0" y1="1721" x2="180.0" y2="1739.3" stroke-width="6.8"/><line x1="480.6" y1="1721" x2="480.6" y2="1755.8" stroke-width="6.6"/><line x1="781.1" y1="1721" x2="781.1" y2="1739.3" stroke-width="6.2"/><line x1="1081.7" y1="1721" x2="1081.7" y2="1755.8" stroke-width="6.6"/><line x1="1382.3" y1="1721" x2="1382.3" y2="1739.3" stroke-width="6.2"/><line x1="1682.9" y1="1721" x2="1682.9" y2="1755.8" stroke-width="6.6"/><line x1="1983.4" y1="1721" x2="1983.4" y2="1739.3" stroke-width="6.2"/><line x1="2284.0" y1="1721" x2="2284.0" y2="1755.8" stroke-width="6.6"/></g>
<g>
<text x="251" y="132.5" font-size="57">TiB<tspan font-size="39" dy="16.5">2</tspan><tspan dy="-16.5" dx="-3">(0001)</tspan></text>
<text x="1957.6" y="508.2" font-size="57">TiB<tspan font-size="39" dy="16.5">2</tspan><tspan dy="-16.5" dx="0">(0002)</tspan></text>
<text x="1806.6" y="696.8" font-size="57">0 at.%</text><text x="1754.6" y="904.4" font-size="56.5">4.26 at.%</text><text x="1729.6" y="1103.2" font-size="56.7">10.83 at.%</text><text x="1741.8" y="1289.2" font-size="57">23.45 at.%</text><text x="1742.4" y="1479.7" font-size="57">32.22 at.%</text><text x="545.2" y="783.0" font-size="56.8">Substrate</text>
<text x="1633.6" y="1668.8" font-size="56.1" style="fill:#ff0000">TiB<tspan font-size="39" dy="14">2</tspan><tspan dy="-14" dx="0">-PDF#35-0741</tspan></text>
</g>
<g font-size="74" text-anchor="middle">
<text x="480.6" y="1835">30</text>
<text x="1081.7" y="1835">40</text>
<text x="1682.8" y="1835">50</text>
<text x="2283" y="1835">60</text>
</g>
<text x="1381.7" y="1956.8" font-size="114" text-anchor="middle">2<tspan font-weight="normal">θ</tspan>(degree)</text>
<text transform="translate(96 879) rotate(-90)" font-size="114.5" text-anchor="middle">Intensity(a.u.)</text>
</g>
</svg>
</body></html>
